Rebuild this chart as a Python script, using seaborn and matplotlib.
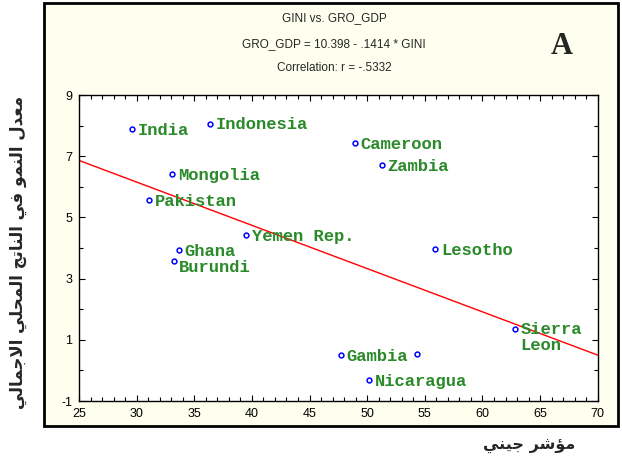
import numpy as np
import pandas as pd
import matplotlib
matplotlib.use("Agg")
import matplotlib.pyplot as plt
import matplotlib.patches as mpatches
from matplotlib.ticker import MultipleLocator, FixedLocator
import seaborn as sns

# data
countries = ["India", "Indonesia", "Mongolia", "Pakistan", "Yemen Rep.", "Ghana", "Burundi",
             "Cameroon", "Zambia", "Lesotho", "Sierra\nLeon", "Gambia", "", "Nicaragua"]
gini = [29.6, 36.4, 33.1, 31.1, 39.5, 33.7, 33.2,
        48.9, 51.3, 55.9, 62.8, 47.7, 54.3, 50.2]
gro_gdp = [7.88, 8.07, 6.43, 5.56, 4.41, 3.92, 3.57,
           7.44, 6.70, 3.96, 1.35, 0.50, 0.53, -0.32]

# fitted line from the chart header
intercept = 10.398
slope = -0.1414
x_range = [25, 70]
y_ticks = [-1, 1, 3, 5, 7, 9]

title_lines = ["GINI vs. GRO_GDP",
               "GRO_GDP = 10.398 - .1414 * GINI",
               "Correlation: r = -.5332"]
ylabel_ar = "معدل النمو في الناتج المحلي الاجمالي"
xlabel_ar = "مؤشر جيني"

# minimal arabic shaping (matplotlib has no text shaping)
FORMS = {
    'ا': ('\uFE8D', '\uFE8E', None, None),
    'ؤ': ('\uFE85', '\uFE86', None, None),
    'ت': ('\uFE95', '\uFE96', '\uFE97', '\uFE98'),
    'ج': ('\uFE9D', '\uFE9E', '\uFE9F', '\uFEA0'),
    'ح': ('\uFEA1', '\uFEA2', '\uFEA3', '\uFEA4'),
    'د': ('\uFEA9', '\uFEAA', None, None),
    'ر': ('\uFEAD', '\uFEAE', None, None),
    'ش': ('\uFEB5', '\uFEB6', '\uFEB7', '\uFEB8'),
    'ع': ('\uFEC9', '\uFECA', '\uFECB', '\uFECC'),
    'ف': ('\uFED1', '\uFED2', '\uFED3', '\uFED4'),
    'ل': ('\uFEDD', '\uFEDE', '\uFEDF', '\uFEE0'),
    'م': ('\uFEE1', '\uFEE2', '\uFEE3', '\uFEE4'),
    'ن': ('\uFEE5', '\uFEE6', '\uFEE7', '\uFEE8'),
    'و': ('\uFEED', '\uFEEE', None, None),
    'ي': ('\uFEF1', '\uFEF2', '\uFEF3', '\uFEF4'),
    'لا': ('\uFEFB', '\uFEFC', None, None),
}


def shape_arabic(text):
    chars = []
    i = 0
    while i < len(text):
        if text[i] == 'ل' and i + 1 < len(text) and text[i + 1] == 'ا':
            chars.append('لا')
            i += 2
        else:
            chars.append(text[i])
            i += 1
    out = []
    for k, c in enumerate(chars):
        if c not in FORMS:
            out.append(c)
            continue
        iso, fin, ini, med = FORMS[c]
        prev = chars[k - 1] if k > 0 else None
        nxt = chars[k + 1] if k + 1 < len(chars) else None
        joins_prev = prev in FORMS and FORMS[prev][2] is not None
        joins_next = ini is not None and nxt in FORMS
        if joins_prev and joins_next:
            out.append(med)
        elif joins_prev:
            out.append(fin)
        elif joins_next:
            out.append(ini)
        else:
            out.append(iso)
    return ''.join(reversed(out))


df = pd.DataFrame({"country": countries, "GINI": gini, "GRO_GDP": gro_gdp})
fit = pd.DataFrame({"GINI": x_range})
fit["GRO_GDP"] = intercept + slope * fit["GINI"]

sns.set_theme(style="white")
plt.rcParams['font.family'] = ['Liberation Sans', 'DejaVu Sans']
plt.rcParams['axes.unicode_minus'] = False

fig = plt.figure(figsize=(6.22, 4.65), dpi=100)
fig.patch.set_facecolor("white")

# ivory panel behind the plot
panel = mpatches.Rectangle((0.0707, 0.0839), 0.923, 0.9097, transform=fig.transFigure,
                           facecolor="#FFFFEF", edgecolor="black", linewidth=2, zorder=-5)
fig.patches.append(panel)

ax = fig.add_axes([0.127, 0.1376, 0.834, 0.658])
ax.set_facecolor("white")

sns.lineplot(data=fit, x="GINI", y="GRO_GDP", color="red", linewidth=1, ax=ax, zorder=2)
sns.scatterplot(data=df, x="GINI", y="GRO_GDP", marker="o", s=12, facecolor="white",
                edgecolor="blue", linewidth=1.1, ax=ax, zorder=3)

for _, row in df.iterrows():
    if not row["country"]:
        continue
    dy = -1
    if row["country"] == "Burundi":
        dy = -4.5
    if row["country"].startswith("Sierra"):
        dy = -6
    ax.annotate(row["country"], (row["GINI"], row["GRO_GDP"]), xytext=(4.0, dy),
                textcoords="offset points", ha="left", va="center",
                fontsize=12.3, family="Liberation Mono", fontweight="bold",
                color="#2a8a2a", linespacing=1.15, zorder=4)

ax.set_xlim(25, 70)
ax.set_ylim(-1, 9)
ax.xaxis.set_major_locator(MultipleLocator(5))
ax.xaxis.set_minor_locator(MultipleLocator(1))
ax.yaxis.set_major_locator(FixedLocator(y_ticks))
ax.yaxis.set_minor_locator(MultipleLocator(1))
ax.tick_params(which="both", direction="in", top=True, right=True, bottom=True, left=True,
               colors="black", width=0.8)
ax.tick_params(which="major", length=4, labelsize=9, pad=5)
ax.tick_params(which="minor", length=3)
ax.set_xlabel("")
ax.set_ylabel("")
for sp in ax.spines.values():
    sp.set_color("black")
    sp.set_linewidth(1)

for txt, yy in zip(title_lines, [0.961, 0.905, 0.854]):
    fig.text(0.537, yy, txt, ha="center", va="center", fontsize=8.5)

fig.text(0.9035, 0.901, "A", ha="center", va="center", fontsize=22,
         family="Liberation Serif", fontweight="bold")

fig.text(0.029, 0.458, shape_arabic(ylabel_ar), rotation=90, ha="center", va="center",
         fontsize=12, fontweight="bold", family="DejaVu Sans")
fig.text(0.850, 0.039, shape_arabic(xlabel_ar), ha="center", va="center",
         fontsize=11.5, fontweight="bold", family="DejaVu Sans")

fig.savefig("out.png", dpi=100)
